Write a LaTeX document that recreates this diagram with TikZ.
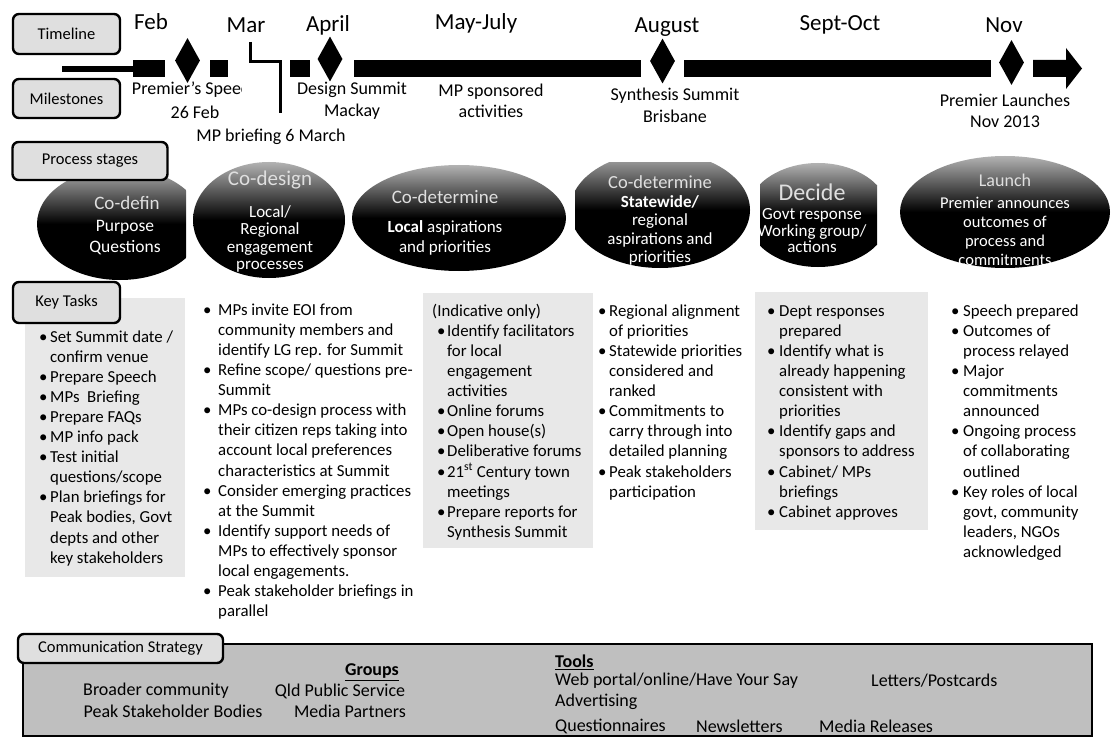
\documentclass[tikz,border=0pt]{standalone}
\usepackage{fontspec}
\setmainfont{Carlito}
\usetikzlibrary{shapes.geometric}
\newlength\bw
\newcommand{\bi}{\makebox[\bw][l]{\strut\textbullet}}
\newcommand{\ci}{\hspace*{\bw}\strut}
\begin{document}
\begin{tikzpicture}[x=1pt,y=-1pt,
 lbl/.style={draw=black,line width=2.4pt,rounded corners=6pt,fill=gray!25,inner sep=0pt,font=\fontsize{16.5}{19}\selectfont},
 month/.style={font=\fontsize{23}{26}\selectfont,inner sep=0pt},
 ms/.style={font=\fontsize{18}{21.5}\selectfont,inner sep=0pt,align=center},
 dia/.style={diamond,fill=black,minimum width=25pt,minimum height=45pt,inner sep=0pt},
 stage/.style={ellipse,draw=none,top color=gray!60,bottom color=black,middle color=black,inner sep=0pt},
 stitle/.style={text=gray!25,inner sep=0pt},
 sbody/.style={text=white,align=center,inner sep=0pt},
 col/.style={anchor=north west,align=left,inner sep=0pt},
 colbg/.style={fill=gray!18,draw=none},
 comm/.style={font=\fontsize{18}{22}\selectfont,inner sep=0pt},
 tbar/.style={fill=black},
]
\useasboundingbox (0,0) rectangle (1115,738);
\fill[white] (0,0) rectangle (1115,738);

% ---------- timeline ----------
\fill[tbar] (62,66) rectangle (134,72);
\fill[tbar] (133,60) rectangle (165,77);
\fill[tbar] (210,60) rectangle (228,77);
\fill[tbar] (290,60) rectangle (310,77);
\fill[tbar] (354,60) rectangle (641,77);
\fill[tbar] (684,60) rectangle (991,77);
\fill[tbar] (1033,60) -- (1066,60) -- (1066,48) -- (1082,68.5) -- (1066,89) -- (1066,77) -- (1033,77) -- cycle;
\node[dia] (dfeb) at (187.5,60.5) {};
\node[dia] (dapr) at (330,59) {};
\node[dia] (daug) at (662.5,61) {};
\node[dia] (dnov) at (1011.5,62.5) {};

\node[month] (mfeb) at (151,22) {Feb};
\node[month] (mmar) at (246,25) {Mar};
\node[month] (mapr) at (328,25) {April};
\node[month] (mmay) at (476,23) {May-July};
\node[month] (maug) at (667,27) {August};
\node[month] (msep) at (840,25) {Sept-Oct};
\node[month] (mnov) at (1004,25) {Nov};

% MP briefing bracket
\coordinate (mb1) at (250,42);
\coordinate (mb2) at (250,62);
\coordinate (mb3) at (280,62);
\coordinate (mb4) at (280,113);
\draw[line width=3pt] (mb1) -- (mb2) -- (mb3) -- (mb4);

% milestones
\begin{scope}
\clip (133,78) rectangle (241,102);
\node[ms] (mps) at (195,90) {Premier’s Speech};
\end{scope}
\node[ms] (mpd) at (195,112) {26 Feb};
\node[ms] (mbr) at (271,137) {MP briefing 6 March};
\node[ms] (mds) at (352,101) {Design Summit\\Mackay};
\node[ms] (mspo) at (491,101) {MP sponsored\\activities};
\node[ms] (msyn) at (675,105.5) {Synthesis Summit\\Brisbane};
\node[ms] (mpl) at (1005,111) {Premier Launches\\Nov 2013};

% ---------- column backgrounds ----------
\fill[colbg] (25,298) rectangle (185,577);
\fill[colbg] (423,293) rectangle (593,548);
\fill[colbg] (755,292) rectangle (928,530);

% ---------- process stages ----------
\begin{scope}
\clip (0,150) rectangle (186,300);
\node[stage,minimum width=166pt,minimum height=112pt] (s1) at (120,224) {};
\end{scope}
\node[stitle,font=\fontsize{19}{22}\selectfont] (s1t) at (127,203) {Co-defin};
\node[sbody,font=\fontsize{17.5}{21}\selectfont] (s1b) at (125,237.5) {Purpose\\Questions};

\node[stage,minimum width=152pt,minimum height=116pt] (s2) at (269,220) {};
\node[stitle,font=\fontsize{21}{24}\selectfont] (s2t) at (270,180) {Co-design};
\node[sbody,font=\fontsize{17}{17.3}\selectfont] (s2b) at (270,239) {Local/\\Regional\\engagement\\processes};

\node[stage,minimum width=214pt,minimum height=106pt] (s3) at (459,218) {};
\node[stitle,font=\fontsize{19}{22}\selectfont] (s3t) at (445,197) {Co-determine};
\node[sbody,font=\fontsize{17}{20}\selectfont] (s3b) at (445,238) {\textbf{Local} aspirations\\and priorities};

\begin{scope}
\clip (575,163) rectangle (800,300);
\node[stage,minimum width=180pt,minimum height=116pt] (s4) at (660,210) {};
\end{scope}
\node[stitle,font=\fontsize{18.5}{22}\selectfont] (s4t) at (660,182) {Co-determine};
\node[sbody,font=\fontsize{17}{18.3}\selectfont] (s4b) at (660,230.5) {\textbf{Statewide/}\\regional\\aspirations and\\priorities};

\begin{scope}
\clip (760,150) rectangle (877,300);
\node[stage,minimum width=144pt,minimum height=104pt] (s5) at (818,215) {};
\end{scope}
\node[stitle,font=\fontsize{24}{26}\selectfont] (s5t) at (812,192) {Decide};
\node[sbody,font=\fontsize{17}{16.5}\selectfont] (s5b) at (812,231) {Govt response\\Working group/\\actions};

\node[stage,minimum width=210pt,minimum height=112pt] (s6) at (1005,212) {};
\node[stitle,font=\fontsize{18}{22}\selectfont] (s6t) at (1005,180) {Launch};
\node[sbody,font=\fontsize{16.5}{19}\selectfont] (s6b) at (1005,231.5) {Premier announces\\outcomes of\\process and\\commitments};

% ---------- label boxes ----------
\node[lbl,minimum width=107pt,minimum height=40pt] (ltl) at (66.5,34) {Timeline};
\node[lbl,minimum width=107pt,minimum height=39pt] (lms) at (66.5,98.5) {Milestones};
\node[lbl,minimum width=155pt,minimum height=38pt] (lps) at (90,161) {Process stages};
\node[lbl,minimum width=107pt,minimum height=41pt] (lkt) at (66.5,302.5) {Key Tasks};

% ---------- key task columns ----------
\node[col,font={\fontsize{16.8}{20.1}\selectfont\setlength\bw{11pt}}] (c1) at (39,327.8) {%
\bi Set Summit date /\\
\ci confirm venue\\
\bi Prepare Speech\\
\bi MPs\ \ Briefing\\
\bi Prepare FAQs\\
\bi MP info pack\\
\bi Test initial\\
\ci questions/scope\\
\bi Plan briefings for\\
\ci Peak bodies, Govt\\
\ci depts and other\\
\ci key stakeholders};

\node[col,font={\fontsize{16.8}{20.1}\selectfont\setlength\bw{15pt}}] (c2) at (203,301) {%
\bi MPs invite EOI from\\
\ci community members and\\
\ci identify LG rep. for Summit\\
\bi Refine scope/ questions pre-\\
\ci Summit\\
\bi MPs co-design process with\\
\ci their citizen reps taking into\\
\ci account local preferences\\
\ci characteristics at Summit\\
\bi Consider emerging practices\\
\ci at the Summit\\
\bi Identify support needs of\\
\ci MPs to effectively sponsor\\
\ci local engagements.\\
\bi Peak stakeholder briefings in\\
\ci parallel};

\node[col,font={\fontsize{16.8}{20.1}\selectfont\setlength\bw{10pt}}] (c3) at (432,302) {%
\strut(Indicative only)\\
\hspace*{5pt}\bi Identify facilitators\\
\hspace*{5pt}\ci for local\\
\hspace*{5pt}\ci engagement\\
\hspace*{5pt}\ci activities\\
\hspace*{5pt}\bi Online forums\\
\hspace*{5pt}\bi Open house(s)\\
\hspace*{5pt}\bi Deliberative forums\\
\hspace*{5pt}\bi 21\textsuperscript{st} Century town\\
\hspace*{5pt}\ci meetings\\
\hspace*{5pt}\bi Prepare reports for\\
\hspace*{5pt}\ci Synthesis Summit};

\node[col,font={\fontsize{16.8}{20.1}\selectfont\setlength\bw{11pt}}] (c4) at (598,302) {%
\bi Regional alignment\\
\ci of priorities\\
\bi Statewide priorities\\
\ci considered and\\
\ci ranked\\
\bi Commitments to\\
\ci carry through into\\
\ci detailed planning\\
\bi Peak stakeholders\\
\ci participation};

\node[col,font={\fontsize{16.8}{20.1}\selectfont\setlength\bw{12pt}}] (c5) at (767,302) {%
\bi Dept responses\\
\ci prepared\\
\bi Identify what is\\
\ci already happening\\
\ci consistent with\\
\ci priorities\\
\bi Identify gaps and\\
\ci sponsors to address\\
\bi Cabinet/ MPs\\
\ci briefings\\
\bi Cabinet approves};

\node[col,font={\fontsize{16.8}{20.1}\selectfont\setlength\bw{12pt}}] (c6) at (951,302) {%
\bi Speech prepared\\
\bi Outcomes of\\
\ci process relayed\\
\bi Major\\
\ci commitments\\
\ci announced\\
\bi Ongoing process\\
\ci of collaborating\\
\ci outlined\\
\bi Key roles of local\\
\ci govt, community\\
\ci leaders, NGOs\\
\ci acknowledged};

% ---------- communication strategy ----------
\fill[gray!50] (23,644) rectangle (1092,736);
\begin{scope}
\clip (23,644) rectangle (1092,736);
\node[comm,font={\fontsize{18}{22}\selectfont\bfseries}] (cgr) at (372,672) {\underline{Groups}};
\node[comm] (cbc) at (156,691) {Broader community};
\node[comm] (cqp) at (340,691) {Qld Public Service};
\node[comm] (cps) at (173,711) {Peak Stakeholder Bodies};
\node[comm] (cmp) at (350,711) {Media Partners};
\node[comm,anchor=west,font={\fontsize{18}{22}\selectfont\bfseries}] (ctl) at (555,662) {\underline{Tools}};
\node[comm,anchor=west] (cwp) at (555,681) {Web portal/online/Have Your Say};
\node[comm,anchor=west] (clp) at (871,681) {Letters/Postcards};
\node[comm,anchor=west] (cad) at (555,702) {Advertising};
\node[comm,anchor=west] (cqu) at (555,726) {Questionnaires};
\node[comm,anchor=west] (cnl) at (696,726) {Newsletters};
\node[comm,anchor=west] (cmr) at (819,726) {Media Releases};
\end{scope}
\draw[line width=2.4pt] (23,644) rectangle (1092,736);
\node[lbl,minimum width=205pt,minimum height=29pt] (lcs) at (120.5,648.5) {Communication Strategy};

\end{tikzpicture}
\end{document}
